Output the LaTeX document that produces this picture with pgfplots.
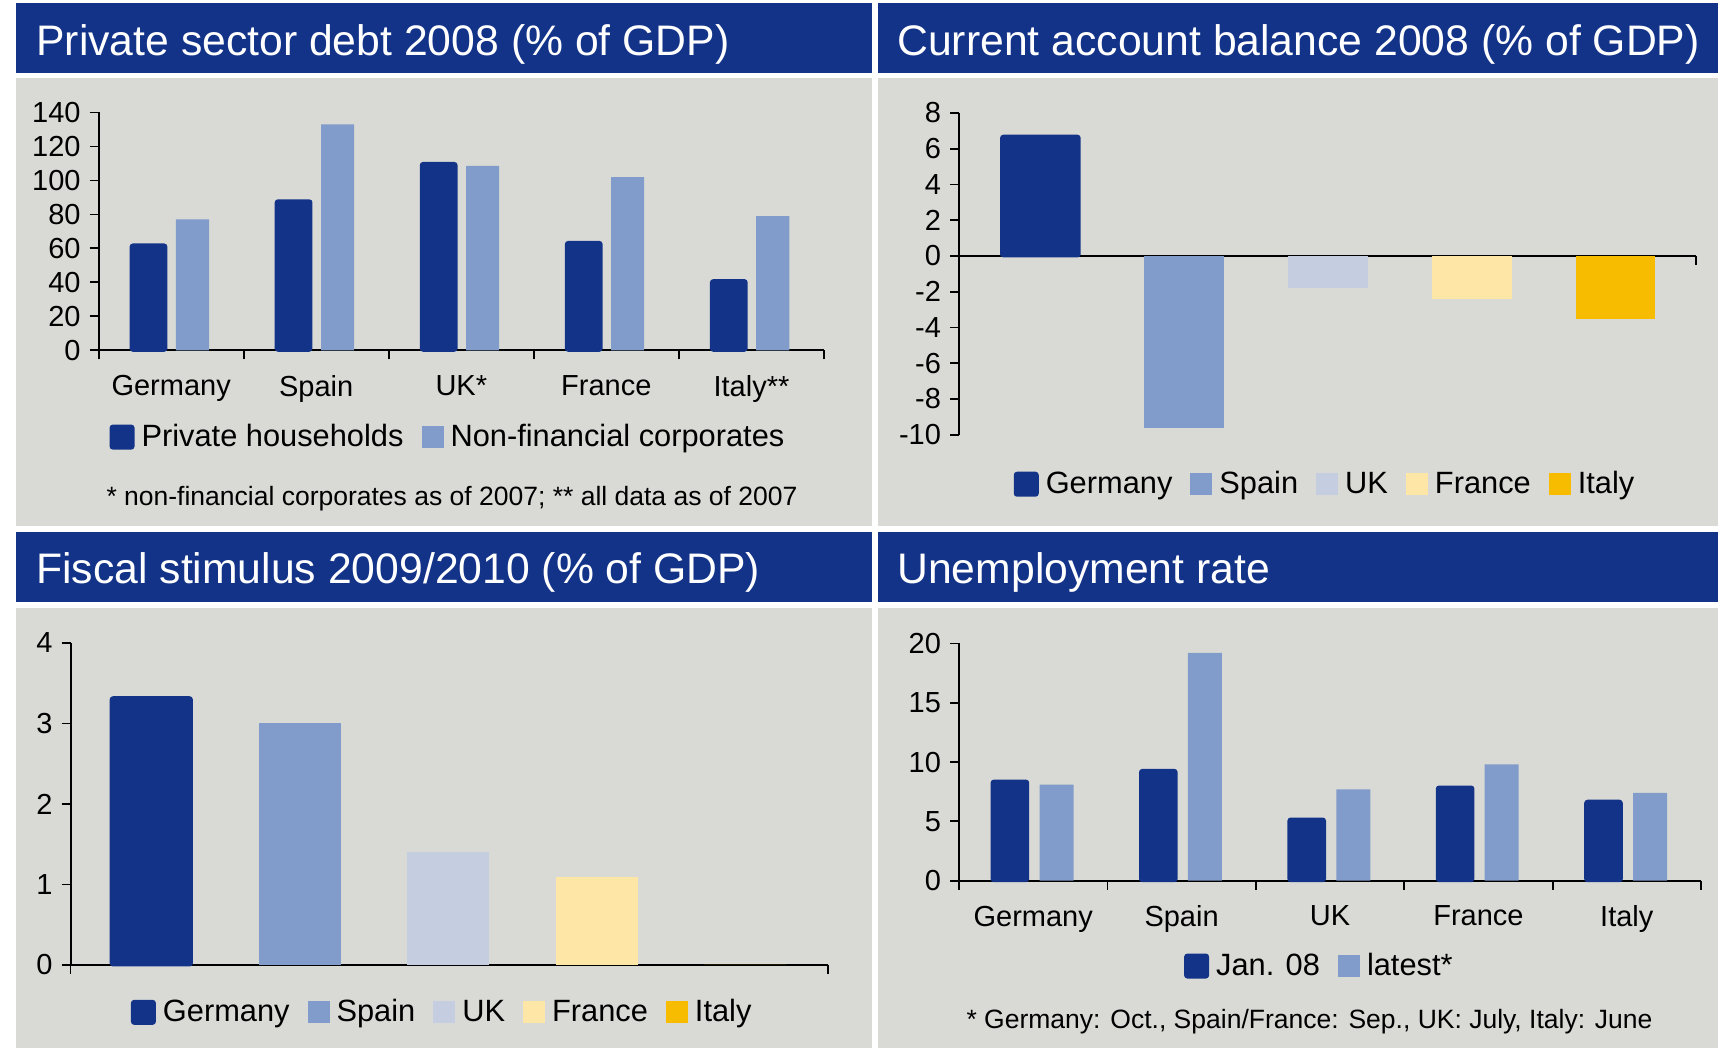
\documentclass[border=0pt]{standalone}
\usepackage{fontspec}
\setmainfont{Liberation Sans}
\usepackage{pgfplots}
\pgfplotsset{compat=1.18}

\definecolor{navy}{RGB}{19,51,137}
\definecolor{midblue}{RGB}{129,156,203}
\definecolor{paleblue}{RGB}{197,206,225}
\definecolor{paleyellow}{RGB}{253,230,166}
\definecolor{gold}{RGB}{247,187,0}
\definecolor{panelgray}{RGB}{217,218,213}

\newcommand{\fsz}[1]{\fontsize{#1}{#1}\selectfont}

\pgfplotsset{
  sq legend/.style={
    legend image code/.code={\path[##1] (0pt,-5.5pt) rectangle (11pt,5.5pt); \path (12.5pt,0pt);}
  },
  panel/.style={
    scale only axis,
    anchor=south west,
    ybar,
    enlargelimits=false,
    axis x line*=bottom, axis y line*=left,
    axis line style={black, line width=1pt},
    tick align=outside,
    major tick length=4.5pt,
    tick style={black, line width=0.9pt},
    /pgf/number format/assume math mode=true,
    tick label style={font=\fsz{14.5}},
    yticklabel style={xshift=-1pt},
    legend columns=-1,
    legend style={draw=none, fill=none, font=\fsz{15.4}, anchor=center,
      /tikz/every even column/.append style={column sep=7pt}},
    every axis plot post/.append style={sq legend},
    clip=false,
  },
  dark/.style={fill=navy, draw=navy, line width=1.5pt, rounded corners=1pt},
  light/.style={fill=midblue, draw=none},
}

\begin{document}
\begin{tikzpicture}
\useasboundingbox (0pt,0pt) rectangle (859pt,524pt);
\fill[white] (0pt,0pt) rectangle (859pt,524pt);
% panels
\fill[navy] (8pt,487.65pt) rectangle (436pt,522.3pt);
\fill[navy] (439pt,487.65pt) rectangle (859pt,522.3pt);
\fill[panelgray] (8pt,261.15pt) rectangle (436pt,484.8pt);
\fill[panelgray] (439pt,261.15pt) rectangle (859pt,484.8pt);
\fill[navy] (8pt,223pt) rectangle (436pt,257.75pt);
\fill[navy] (439pt,223pt) rectangle (859pt,257.75pt);
\fill[panelgray] (8pt,0pt) rectangle (436pt,219.75pt);
\fill[panelgray] (439pt,0pt) rectangle (859pt,219.75pt);
% titles
\node[anchor=base west, text=white, font=\fsz{21.35}, inner sep=0pt] at (18pt,496pt) {Private sector debt 2008 (\% of GDP)};
\node[anchor=base west, text=white, font=\fsz{21.35}, inner sep=0pt] at (448.5pt,496pt) {Current account balance 2008 (\% of GDP)};
\node[anchor=base west, text=white, font=\fsz{21.35}, inner sep=0pt] at (18pt,232pt) {Fiscal stimulus 2009/2010 (\% of GDP)};
\node[anchor=base west, text=white, font=\fsz{21.35}, inner sep=0pt] at (448.5pt,232pt) {Unemployment rate};

% ---- private sector debt
\begin{axis}[panel, at={(49.3pt,348.85pt)}, width=362.7pt, height=118.9pt,
  xmin=0.5, xmax=5.5, ymin=0, ymax=140, ytick={0,20,...,140},
  xtick={0.5,1.5,2.5,3.5,4.5,5.5}, xticklabels={,,,,,},
  extra x ticks={1,2,3,4,5},
  extra x tick labels={Germany,Spain,UK*,France,Italy**},
  extra x tick style={major tick length=0pt, tick label style={yshift=-9pt}},
  legend style={at={(0.483,-0.365)}},
]
\addplot[dark, bar width=0.24, bar shift=-0.156] coordinates {(1,62) (2,88) (3,110) (4,63.5) (5,41)};
\addlegendentry{Private households}
\addplot[light, bar width=0.228, bar shift=0.147] coordinates {(1,77) (2,133) (3,108.5) (4,102) (5,79)};
\addlegendentry{Non-financial corporates}
\end{axis}

% ---- current account balance
\begin{axis}[panel, at={(479.5pt,306.65pt)}, width=368.5pt, height=160.85pt,
  axis x line*=middle,
  xmin=0.434, xmax=5.56, ymin=-10, ymax=8, ytick={-10,-8,...,8},
  xtick={5.56}, xticklabels={},
  legend style={at={(0.498,-0.154)}},
]
\addplot[dark, bar width=0.54, bar shift=0pt] coordinates {(1,6.7)};
\addlegendentry{Germany}
\addplot[fill=midblue, draw=none, bar width=0.556, bar shift=0pt] coordinates {(2,-9.6)};
\addlegendentry{Spain}
\addplot[fill=paleblue, draw=none, bar width=0.556, bar shift=0pt] coordinates {(3,-1.8)};
\addlegendentry{UK}
\addplot[fill=paleyellow, draw=none, bar width=0.556, bar shift=0pt] coordinates {(4,-2.4)};
\addlegendentry{France}
\addplot[fill=gold, draw=none, bar width=0.556, bar shift=0pt] coordinates {(5,-3.5)};
\addlegendentry{Italy}
\end{axis}

% ---- fiscal stimulus
\begin{axis}[panel, at={(35.25pt,41.5pt)}, width=378.75pt, height=161pt,
  xmin=0.456, xmax=5.557, ymin=0, ymax=4, ytick={0,1,...,4},
  xtick={0.456,5.557}, xticklabels={,},
  legend style={at={(0.492,-0.147)}},
]
\addplot[dark, bar width=0.54, bar shift=0pt] coordinates {(1,3.32)};
\addlegendentry{Germany}
\addplot[fill=midblue, draw=none, bar width=0.552, bar shift=0pt] coordinates {(2,3.0)};
\addlegendentry{Spain}
\addplot[fill=paleblue, draw=none, bar width=0.552, bar shift=0pt] coordinates {(3,1.4)};
\addlegendentry{UK}
\addplot[fill=paleyellow, draw=none, bar width=0.552, bar shift=0pt] coordinates {(4,1.09)};
\addlegendentry{France}
\addplot[fill=gold, draw=none, bar width=0.552, bar shift=0pt] coordinates {(5,0)};
\addlegendentry{Italy}
\end{axis}

% ---- unemployment
\begin{axis}[panel, at={(479.5pt,83.65pt)}, width=371pt, height=118.6pt,
  xmin=0.5, xmax=5.5, ymin=0, ymax=20, ytick={0,5,...,20},
  xtick={0.5,1.5,2.5,3.5,4.5,5.5}, xticklabels={,,,,,},
  extra x ticks={1,2,3,4,5},
  extra x tick labels={Germany,Spain,UK,France,Italy},
  extra x tick style={major tick length=0pt, tick label style={yshift=-9pt}},
  legend style={at={(0.487,-0.360)}},
]
\addplot[dark, bar width=0.24, bar shift=-0.157] coordinates {(1,8.4) (2,9.3) (3,5.2) (4,7.9) (5,6.7)};
\addlegendentry{Jan. 08}
\addplot[light, bar width=0.229, bar shift=0.157] coordinates {(1,8.1) (2,19.2) (3,7.7) (4,9.8) (5,7.4)};
\addlegendentry{latest*}
\end{axis}

% footnotes
\node[anchor=base, font=\fsz{13.25}, inner sep=0pt] at (226pt,271pt) {* non-financial corporates as of 2007; ** all data as of 2007};
\node[anchor=base, font=\fsz{13.25}, inner sep=0pt] at (654.75pt,9.5pt) {* Germany: Oct., Spain/France: Sep., UK: July, Italy: June};
\end{tikzpicture}
\end{document}
